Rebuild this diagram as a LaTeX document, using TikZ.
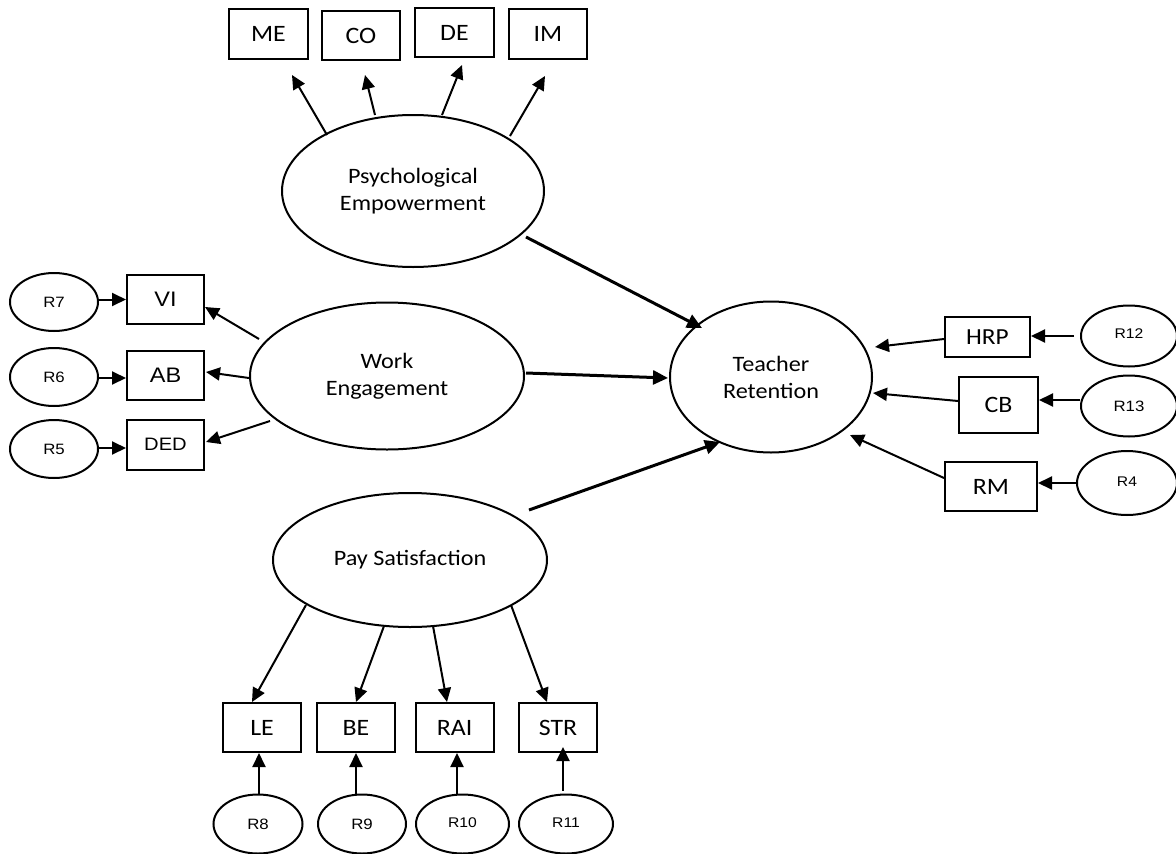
\documentclass[tikz,border=0pt]{standalone}
\usepackage{fontspec}
\setmainfont{Carlito}[FakeStretch=1.1]
\newfontfamily\arialf{Liberation Sans}[FakeStretch=1.12]
\usetikzlibrary{arrows.meta,shapes.geometric}
\begin{document}
\begin{tikzpicture}[x=1pt,y=-1pt,
 lat/.style={draw, line width=2pt, ellipse, inner sep=0pt, align=center, font=\fontsize{22}{27}\selectfont},
 ind/.style={draw, line width=2pt, rectangle, inner sep=0pt, font=\fontsize{23.5}{26}\selectfont},
 inda/.style={ind, font=\arialf\fontsize{21}{24}\selectfont},
 err/.style={draw, line width=2pt, ellipse, inner sep=0pt, font=\arialf\fontsize{15}{17}\selectfont},
 errs/.style={err, font=\arialf\fontsize{14}{16}\selectfont},
 arr/.style={line width=2pt, -{Triangle[length=14pt,width=13pt]}},
 mainarr/.style={line width=3pt, -{Triangle[length=15pt,width=14pt]}},
]
\useasboundingbox (0,0) rectangle (1176,854);
% latent variables
\node[lat, minimum width=262pt, minimum height=152pt] (pe) at (413,191) {Psychological\\Empowerment};
\node[lat, minimum width=274pt, minimum height=147pt] (we) at (387,376) {Work\\Engagement};
\node[lat, minimum width=202pt, minimum height=151pt] (tr) at (771,377) {Teacher\\Retention};
\node[lat, minimum width=274pt, minimum height=134pt] (ps) at (410,560) {Pay Satisfaction};
% top indicators
\node[ind, minimum width=79pt, minimum height=50pt] (me) at (268.5,34) {ME};
\node[ind, minimum width=78pt, minimum height=49pt] (co) at (361,35.5) {CO};
\node[ind, minimum width=79pt, minimum height=49pt] (de) at (454.5,32.5) {DE};
\node[ind, minimum width=78pt, minimum height=50pt] (im) at (548,34) {IM};
% left indicators
\node[inda, minimum width=77pt, minimum height=49pt] (vi) at (165.5,299.5) {VI};
\node[inda, minimum width=77pt, minimum height=49pt] (ab) at (165.5,375.5) {AB};
\node[inda, minimum width=77pt, minimum height=50pt, font=\arialf\fontsize{18}{20}\selectfont] (ded) at (165.5,444.5) {DED};
\node[err, minimum width=88pt, minimum height=58pt] (r7) at (54,302) {R7};
\node[err, minimum width=88pt, minimum height=58pt] (r6) at (54,377) {R6};
\node[err, minimum width=88pt, minimum height=58pt] (r5) at (54,449) {R5};
% right indicators
\node[ind, minimum width=85pt, minimum height=40pt, font=\fontsize{23}{26}\selectfont] (hrp) at (987.5,337) {HRP};
\node[ind, minimum width=79pt, minimum height=56pt] (cb) at (998.5,405) {CB};
\node[ind, minimum width=92pt, minimum height=49pt] (rm) at (991,486.5) {RM};
\node[errs, minimum width=96pt, minimum height=61pt] (r12) at (1129,336) {\raisebox{4pt}{R12}};
\node[err, minimum width=96pt, minimum height=61pt] (r13) at (1129,406) {R13};
\node[errs, minimum width=100pt, minimum height=64pt] (r4) at (1127,483) {\raisebox{3pt}{R4}};
% bottom indicators
\node[ind, minimum width=78pt, minimum height=49pt] (le) at (262,727.5) {LE};
\node[ind, minimum width=78pt, minimum height=49pt] (be) at (356,727.5) {BE};
\node[ind, minimum width=78pt, minimum height=49pt] (rai) at (454.5,727.5) {RAI};
\node[ind, minimum width=78pt, minimum height=49pt] (str) at (558,727.5) {STR};
\node[err, minimum width=89pt, minimum height=59pt] (r8) at (258,824) {R8};
\node[err, minimum width=88pt, minimum height=59pt] (r9) at (362,824) {R9};
\node[errs, minimum width=93pt, minimum height=59pt] (r10) at (462.5,824) {\raisebox{3pt}{R10}};
\node[errs, minimum width=94pt, minimum height=59pt] (r11) at (566,824) {\raisebox{3pt}{R11}};
% free connector ends
\coordinate (peme0) at (327,135); \coordinate (peme1) at (292,75);
\coordinate (peco0) at (375,115); \coordinate (peco1) at (365,75);
\coordinate (pede0) at (442,115); \coordinate (pede1) at (462,65);
\coordinate (peim0) at (510,136); \coordinate (peim1) at (545,76);
\coordinate (wevi0) at (259,339); \coordinate (wevi1) at (205,307);
\coordinate (weab0) at (249,378); \coordinate (weab1) at (206,372);
\coordinate (weded0) at (270,421); \coordinate (weded1) at (206,442);
\coordinate (petr0) at (526,237); \coordinate (petr1) at (702,328);
\coordinate (wetr0) at (526,373); \coordinate (wetr1) at (668,378);
\coordinate (pstr0) at (529,510); \coordinate (pstr1) at (720,442);
\coordinate (hrptr1) at (875,347);
\coordinate (cbtr1) at (873,393);
\coordinate (rmtr0) at (944,478); \coordinate (rmtr1) at (850,435);
\coordinate (psle0) at (306,605); \coordinate (psle1) at (252,702);
\coordinate (psbe0) at (384,626); \coordinate (psbe1) at (356,702);
\coordinate (psrai0) at (433,626); \coordinate (psrai1) at (447,702);
\coordinate (psstr0) at (511,605); \coordinate (psstr1) at (547,702);
% connectors
\draw[arr] (peme0) -- (peme1);
\draw[arr] (peco0) -- (peco1);
\draw[arr] (pede0) -- (pede1);
\draw[arr] (peim0) -- (peim1);
\draw[arr] (wevi0) -- (wevi1);
\draw[arr] (weab0) -- (weab1);
\draw[arr] (weded0) -- (weded1);
\draw[arr] (r7.east |- vi.west) -- (vi.west);
\draw[arr] (r6.east |- 0,378) -- (ab.west |- 0,378);
\draw[arr] (r5.east |- 0,448) -- (ded.west |- 0,448);
\draw[mainarr] (petr0) -- (petr1);
\draw[mainarr] (wetr0) -- (wetr1);
\draw[mainarr] (pstr0) -- (pstr1);
\draw[arr] (hrp.west |- 0,339) -- (hrptr1);
\draw[arr] (cb.west |- 0,401) -- (cbtr1);
\draw[arr] (rmtr0) -- (rmtr1);
\draw[arr] ([xshift=-6pt]r12.west) -- (hrp.east |- r12.west);
\draw[arr] (r13.west |- 0,400) -- (cb.east |- 0,400);
\draw[arr] (r4.west) -- (rm.east |- r4.west);
\draw[arr] (psle0) -- (psle1);
\draw[arr] (psbe0) -- (psbe1);
\draw[arr] (psrai0) -- (psrai1);
\draw[arr] (psstr0) -- (psstr1);
\draw[arr] (r8.north -| 259,0) -- (le.south -| 259,0);
\draw[arr] (r9.north -| 356,0) -- (be.south -| 356,0);
\draw[arr] (r10.north -| 457,0) -- (rai.south -| 457,0);
\draw[arr] ([yshift=3pt]r11.north -| 563,0) -- ([yshift=6pt]str.south -| 563,0);
\end{tikzpicture}
\end{document}
